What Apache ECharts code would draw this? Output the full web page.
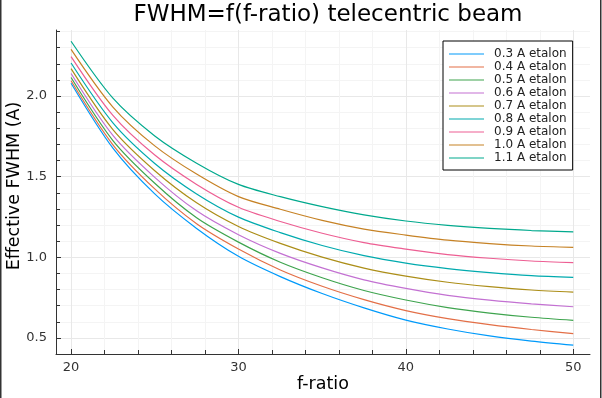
<!DOCTYPE html>
<html>
<head>
<meta charset="utf-8">
<script src="https://cdn.jsdelivr.net/npm/echarts@6/dist/echarts.min.js"></script>
<style>
  html, body { margin: 0; padding: 0; background: #fff; }
  #chart { width: 602px; height: 398px; }
</style>
</head>
<body>
<div id="chart"></div>
<script>
/* data */
var fRatio = [20, 22.5, 25, 27.5, 30, 32.5, 35, 37.5, 40, 42.5, 45, 47.5, 50];

var etalon03 = [2.080, 1.677, 1.393, 1.179, 1.006, 0.880, 0.775, 0.686, 0.610, 0.555, 0.512, 0.480, 0.455];
var etalon04 = [2.095, 1.698, 1.424, 1.208, 1.051, 0.921, 0.820, 0.737, 0.669, 0.619, 0.582, 0.552, 0.527];
var etalon05 = [2.115, 1.724, 1.459, 1.245, 1.094, 0.969, 0.873, 0.794, 0.735, 0.688, 0.654, 0.628, 0.609];
var etalon06 = [2.140, 1.756, 1.496, 1.288, 1.140, 1.024, 0.934, 0.860, 0.807, 0.764, 0.734, 0.711, 0.693];
var etalon07 = [2.170, 1.792, 1.537, 1.338, 1.191, 1.086, 1.001, 0.933, 0.883, 0.845, 0.818, 0.797, 0.784];
var etalon08 = [2.205, 1.834, 1.582, 1.393, 1.249, 1.153, 1.073, 1.010, 0.964, 0.930, 0.905, 0.886, 0.875];
var etalon09 = [2.245, 1.880, 1.634, 1.452, 1.310, 1.222, 1.149, 1.091, 1.051, 1.017, 0.994, 0.977, 0.967];
var etalon10 = [2.290, 1.932, 1.691, 1.516, 1.376, 1.298, 1.229, 1.175, 1.138, 1.106, 1.085, 1.070, 1.062];
var etalon11 = [2.340, 1.987, 1.753, 1.584, 1.452, 1.376, 1.314, 1.263, 1.225, 1.198, 1.179, 1.166, 1.158];

var seriesNames = ['0.3 A etalon', '0.4 A etalon', '0.5 A etalon', '0.6 A etalon', '0.7 A etalon',
                   '0.8 A etalon', '0.9 A etalon', '1.0 A etalon', '1.1 A etalon'];
var seriesValues = [etalon03, etalon04, etalon05, etalon06, etalon07, etalon08, etalon09, etalon10, etalon11];

var xMajorTicks = [20, 30, 40, 50];
var xMinorTicks = [20, 22, 24, 26, 28, 30, 32, 34, 36, 38, 40, 42, 44, 46, 48, 50];
var yMajorTicks = [0.5, 1.0, 1.5, 2.0];
var yMinorTicks = [0.4, 0.5, 0.6, 0.7, 0.8, 0.9, 1.0, 1.1, 1.2, 1.3, 1.4, 1.5, 1.6, 1.7, 1.8, 1.9, 2.0, 2.1, 2.2, 2.3, 2.4];

var palette = ['#009AFA', '#E36F47', '#3EA44E', '#C371D2', '#AC8E18', '#00AAAE', '#ED5E93', '#C68225', '#00A98D'];

var font = 'DejaVu Sans';
var axisColor = '#333';

var series = seriesNames.map(function (name, i) {
    return {
        name: name,
        type: 'line',
        xAxisIndex: 0,
        yAxisIndex: 0,
        symbol: 'none',
        smooth: 0.3,
        lineStyle: { width: 1.2, color: palette[i] },
        itemStyle: { color: palette[i] },
        data: fRatio.map(function (f, k) { return [f, seriesValues[i][k]]; })
    };
});

var option = {
    backgroundColor: '#fff',
    animation: false,
    textStyle: { fontFamily: font },
    title: {
        text: 'FWHM=f(f-ratio) telecentric beam',
        left: 323,
        textAlign: 'center',
        top: -1,
        textStyle: { fontFamily: font, fontSize: 23, fontWeight: 'normal', color: '#000' }
    },
    grid: { left: 56, right: 12, top: 30, bottom: 44, containLabel: false, outerBoundsMode: 'none' },
    legend: {
        orient: 'vertical',
        left: 443,
        top: 41,
        padding: [7, 6, 6, 6],
        itemWidth: 35,
        itemHeight: 13,
        itemGap: 1,
        icon: 'path://M0,0 L35,0 L35,1.2 L0,1.2 Z',
        backgroundColor: '#fff',
        borderColor: '#000',
        borderWidth: 1,
        borderRadius: 0,
        textStyle: { fontFamily: font, fontSize: 12, color: '#222', padding: [0, 0, 0, 5] },
        data: seriesNames
    },
    xAxis: [{
        type: 'value',
        min: 19.1,
        max: 51,
        name: 'f-ratio',
        nameLocation: 'middle',
        nameGap: 21,
        nameTextStyle: { fontFamily: font, fontSize: 17.5, color: '#000' },
        axisLine: { show: true, lineStyle: { color: axisColor } },
        axisTick: { show: true, inside: true, length: 4, customValues: xMinorTicks, lineStyle: { color: axisColor } },
        axisLabel: { show: false },
        splitLine: { show: true, lineStyle: { color: '#f4f4f4', width: 1 } }
    }, {
        type: 'value',
        min: 19.1,
        max: 51,
        position: 'bottom',
        axisLine: { show: false },
        axisTick: { show: true, inside: true, length: 5, customValues: xMajorTicks, lineStyle: { color: axisColor } },
        axisLabel: {
            show: true, customValues: xMajorTicks, margin: 7,
            fontFamily: font, fontSize: 13, color: '#333'
        },
        splitLine: { show: true, lineStyle: { color: '#e8e8e8', width: 1 } }
    }],
    yAxis: [{
        type: 'value',
        min: 0.4,
        max: 2.41,
        name: 'Effective FWHM (A)',
        nameLocation: 'middle',
        nameGap: 33,
        nameTextStyle: { fontFamily: font, fontSize: 17.5, color: '#000', padding: [0, 0, 0, 12] },
        axisLine: { show: true, lineStyle: { color: axisColor } },
        axisTick: { show: true, inside: true, length: 4, customValues: yMinorTicks, lineStyle: { color: axisColor } },
        axisLabel: { show: false },
        splitLine: { show: true, lineStyle: { color: '#f4f4f4', width: 1 } }
    }, {
        type: 'value',
        min: 0.4,
        max: 2.41,
        position: 'left',
        axisLine: { show: false },
        axisTick: { show: true, inside: true, length: 5, customValues: yMajorTicks, lineStyle: { color: axisColor } },
        axisLabel: {
            show: true, customValues: yMajorTicks, margin: 9,
            fontFamily: font, fontSize: 13, color: '#333',
            formatter: function (v) { return v.toFixed(1); }
        },
        splitLine: { show: true, lineStyle: { color: '#e8e8e8', width: 1 } }
    }],
    graphic: [
        { type: 'rect', left: 0, top: 0, shape: { width: 1.5, height: 398 }, style: { fill: '#333' }, silent: true },
        { type: 'rect', left: 600, top: 0, shape: { width: 1.5, height: 398 }, style: { fill: '#333' }, silent: true }
    ],
    series: series
};

var chart = echarts.init(document.getElementById('chart'), null, { renderer: 'canvas' });
chart.setOption(option);
</script>
</body>
</html>
